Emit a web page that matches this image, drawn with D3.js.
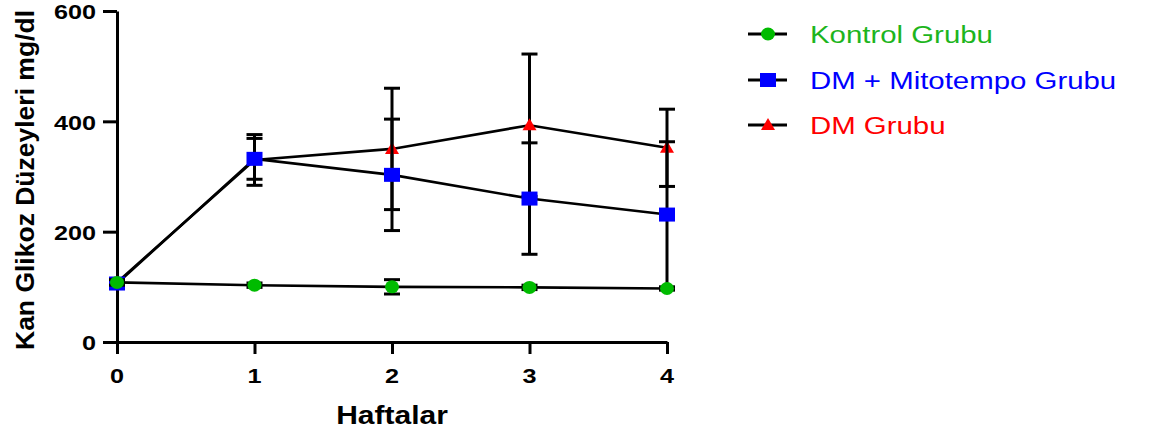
<!doctype html>
<html lang="tr">
<head>
<meta charset="utf-8">
<title>Kan Glikoz Düzeyleri</title>
<script src="https://d3js.org/d3.v7.min.js"></script>
<style>
  body { margin: 0; background: #fff; }
  svg { display: block; }
  text { font-family: "Liberation Sans", Arial, sans-serif; }
</style>
</head>
<body>
<div id="chart"></div>
<script>
// data (mean and error bar half-length per week)
const weeks = [0, 1, 2, 3, 4]
const kontrolMean = [108, 103, 100, 99, 97]
const kontrolErr = [5, 4, 13, 4, 3]
const mitoMean = [106, 332, 303, 260, 231]
const mitoErr = [5, 37, 101, 101, 132]
const dmMean = [108, 330, 350, 393, 352]
const dmErr = [5, 46, 110, 129, 70]
const yTicks = [0, 200, 400, 600]

const seriesNames = ['Kontrol Grubu', 'DM + Mitotempo Grubu', 'DM Grubu']

const W = 1149, H = 432
const sx = 1.2 // the picture is stretched sideways

const svg = d3.select('#chart').append('svg')
    .attr('width', W).attr('height', H)

const x = d3.scaleLinear().domain([0, 4]).range([117, 667])
const y = d3.scaleLinear().domain([0, 600]).range([342, 11])

const stretched = (sel, tx, ty) => sel.attr('transform', `translate(${tx},${ty}) scale(${sx},1)`)

// axes
const yAxis = svg.append('g')
    .attr('transform', `translate(${x(0)},0)`)
    .call(d3.axisLeft(y).tickValues(yTicks).tickSize(14).tickSizeOuter(0).tickFormat(''))
const xAxis = svg.append('g')
    .attr('transform', `translate(0,${y(0)})`)
    .call(d3.axisBottom(x).tickValues(weeks).tickSize(12).tickSizeOuter(0).tickFormat(''))
svg.selectAll('.domain, .tick line')
    .attr('stroke', '#000').attr('stroke-width', 3)

yTicks.forEach(v => {
    svg.append('text').text(v)
        .attr('text-anchor', 'end').attr('dominant-baseline', 'central')
        .attr('font-size', 21).attr('font-weight', 'bold')
        .call(stretched, 96, y(v) + 1)
})
weeks.forEach(v => {
    svg.append('text').text(v)
        .attr('text-anchor', 'middle')
        .attr('font-size', 21).attr('font-weight', 'bold')
        .call(stretched, x(v), 383)
})

svg.append('text').text('Haftalar')
    .attr('text-anchor', 'middle')
    .attr('font-size', 25).attr('font-weight', 'bold')
    .call(stretched, 392, 424)

svg.append('text').text('Kan Glikoz Düzeyleri mg/dl')
    .attr('text-anchor', 'middle')
    .attr('font-size', 22).attr('font-weight', 'bold')
    .attr('textLength', 340).attr('lengthAdjust', 'spacingAndGlyphs')
    .attr('transform', `translate(34,180) rotate(-90) scale(1,${sx})`)

// series, drawn DM first so that the control group sits on top
const series = [
    { name: seriesNames[2], mean: dmMean, err: dmErr, color: '#ff0000', shape: 'triangle' },
    { name: seriesNames[1], mean: mitoMean, err: mitoErr, color: '#0000ff', shape: 'square' },
    { name: seriesNames[0], mean: kontrolMean, err: kontrolErr, color: '#00bb00', shape: 'circle' }
]

const drawMarker = (g, shape, color, cx, cy) => {
    if (shape === 'circle') {
        g.append('ellipse').attr('cx', cx).attr('cy', cy)
            .attr('rx', 7).attr('ry', 6.5).attr('fill', color)
    } else if (shape === 'square') {
        g.append('rect').attr('x', cx - 8).attr('y', cy - 7)
            .attr('width', 16).attr('height', 14).attr('fill', color)
    } else {
        g.append('path')
            .attr('d', `M${cx},${cy - 7}L${cx + 7},${cy + 5}L${cx - 7},${cy + 5}Z`)
            .attr('fill', color)
    }
}

const line = d3.line().x((d, i) => x(weeks[i])).y(d => y(d))

series.forEach(s => {
    const g = svg.append('g')
    g.append('path').datum(s.mean)
        .attr('d', line)
        .attr('fill', 'none').attr('stroke', '#000').attr('stroke-width', 2.6)

    s.mean.forEach((m, i) => {
        const cx = x(weeks[i])
        const lo = y(m - s.err[i]), hi = y(m + s.err[i])
        g.append('line').attr('x1', cx).attr('x2', cx).attr('y1', lo).attr('y2', hi)
            .attr('stroke', '#000').attr('stroke-width', 3)
        ;[lo, hi].forEach(cy => {
            g.append('line').attr('x1', cx - 8).attr('x2', cx + 8).attr('y1', cy).attr('y2', cy)
                .attr('stroke', '#000').attr('stroke-width', 3)
        })
    })
    s.mean.forEach((m, i) => drawMarker(g, s.shape, s.color, x(weeks[i]), y(m)))
})

// legend
const legend = svg.append('g')
const legendRows = [series[2], series[1], series[0]]
const rowY = [34, 80, 125]
legendRows.forEach((s, i) => {
    legend.append('line').attr('x1', 748).attr('x2', 787)
        .attr('y1', rowY[i]).attr('y2', rowY[i])
        .attr('stroke', '#000').attr('stroke-width', 3)
    drawMarker(legend, s.shape, s.color, 768, rowY[i])
    legend.append('text').text(s.name)
        .attr('font-size', 24.5)
        .attr('fill', s.color === '#00bb00' ? '#1db51d' : s.color)
        .call(stretched, 810, rowY[i] + 8.5)
})
</script>
</body>
</html>
